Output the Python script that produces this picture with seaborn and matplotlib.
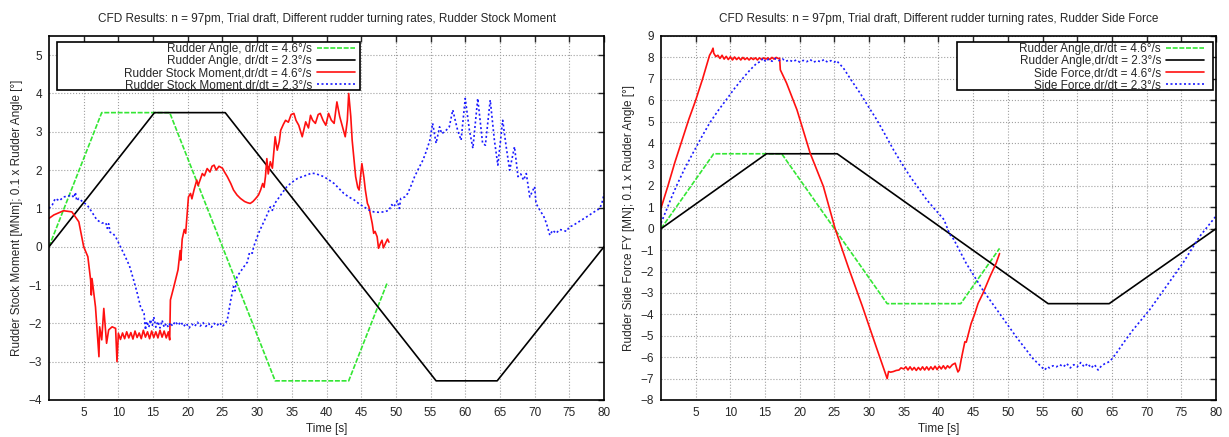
import numpy as np
import pandas as pd
import seaborn as sns
import matplotlib
matplotlib.use("Agg")
import matplotlib.pyplot as plt
from matplotlib.patches import Rectangle

# rudder angle (0.1 x deg)
ang46_t = [0, 7.6, 17.4, 32.6, 43.2, 48.8]
ang46_v = [0, 3.5, 3.5, -3.5, -3.5, -0.92]
ang23_t = [0, 15.2, 25.4, 55.8, 64.6, 80.0]
ang23_v = [0, 3.5, 3.5, -3.5, -3.5, 0.0]

# rudder stock moment, 4.6 deg/s
mom46_t = [0, 0.7, 2.1, 3.3, 4.3, 5.0, 5.6, 6.0, 6.1, 6.2, 6.7, 7.2, 7.3, 7.6, 7.9, 8.3, 8.6, 9.1, 9.6, 9.8, 10.0,
           10.3, 10.6, 10.9, 11.2, 11.5, 11.8, 12.1, 12.4, 12.7, 13.0, 13.3, 13.6, 13.9, 14.2, 14.5, 14.8, 15.1, 15.4,
           15.7, 16.0, 16.3, 16.6, 16.9, 17.2, 17.4, 17.5, 18.0, 18.6, 18.9, 19.0, 19.2, 19.5, 19.7, 20.1, 20.4, 20.6,
           20.9, 21.3, 21.5, 22.1, 22.4, 22.8, 23.2, 23.5, 23.8, 24.1, 24.5, 25.0, 25.3, 25.7, 26.2, 26.6, 27.1, 27.6,
           28.2, 28.6, 29.0, 29.4, 29.8, 30.2, 30.5, 30.8, 31.0, 31.2, 31.4, 31.6, 31.9, 32.2, 32.6, 32.9, 33.2, 33.4,
           33.8, 34.1, 34.5, 34.9, 35.3, 35.6, 36.0, 36.5, 37.0, 37.4, 37.7, 38.0, 38.4, 38.8, 39.1, 39.5, 39.9, 40.3,
           40.7, 41.1, 41.5, 41.9, 42.3, 42.7, 43.0, 43.2, 43.5, 43.7, 44.2, 44.5, 44.7, 45.1, 45.4, 45.6, 45.9, 46.1,
           46.3, 46.6, 46.8, 47.0, 47.3, 47.5, 47.8, 48.0, 48.2, 48.5, 48.8, 49.0]
mom46_v = [0.74, 0.83, 0.94, 0.91, 0.65, 0.0, -0.26, -0.87, -1.26, -0.83, -1.57, -2.87, -2.09, -2.43, -1.61, -2.52,
           -2.17, -2.09, -2.13, -3.0, -2.26,
           -2.42, -2.25, -2.40, -2.22, -2.38, -2.24, -2.41, -2.20, -2.37, -2.25, -2.40, -2.18, -2.36, -2.22, -2.40,
           -2.20, -2.37, -2.22, -2.38, -2.18, -2.36, -2.20, -2.38, -2.22, -2.43, -1.39, -1.04, -0.6, -0.1, -0.35, 0.2,
           0.45, 0.35, 1.3, 1.39, 1.25, 1.48, 1.74, 1.6, 1.91, 1.85, 2.04, 1.95, 2.1, 2.13, 2.0, 2.1, 2.05, 1.95,
           1.83, 1.65, 1.48, 1.35, 1.26, 1.18, 1.15, 1.13, 1.18, 1.26, 1.35, 1.48, 1.65, 1.55, 1.83, 2.3, 1.9, 2.22,
           2.05, 2.87, 2.52, 2.75, 3.04, 3.2, 3.3, 3.25, 3.45, 3.48, 3.3, 3.17, 2.87, 3.26, 3.1, 3.43, 3.3, 3.22,
           3.45, 3.48, 3.3, 3.17, 3.48, 3.3, 3.22, 3.78, 3.4, 3.13, 2.87, 3.3, 4.0, 3.4, 2.78, 1.83, 1.55, 1.48, 2.17,
           1.8, 1.48, 1.13, 1.05, 0.87, 0.6, 0.35, 0.4, 0.26, -0.04, 0.1, 0.17, -0.03, 0.09, 0.2, 0.12]

# rudder stock moment, 2.3 deg/s
mom23_t = [0, 0.5, 0.9, 1.5, 2.1, 2.7, 3.3, 3.6, 3.8, 4.0, 4.3, 5.0, 5.5, 6.2, 6.9, 7.6, 8.2, 8.4, 8.6, 8.8, 9.2, 9.6,
           10.3, 11.0, 11.6, 12.2, 12.7, 13.2, 13.7, 13.9, 14.1, 14.4, 14.6, 14.9, 15.1, 15.4, 15.7, 16.0, 16.3, 16.6,
           16.9, 17.2, 17.5, 17.8, 18.2, 18.6, 19.0, 19.4, 19.8, 20.2, 20.6, 21.0, 21.4, 21.8, 22.2, 22.6, 23.0, 23.4,
           23.8, 24.2, 24.6, 25.0, 25.4, 25.7, 26.2, 26.6, 26.8, 27.1, 27.6, 28.1, 28.6, 28.9, 29.3, 29.5, 29.9, 30.2,
           30.7, 31.2, 31.6, 31.9, 32.2, 32.5, 32.9, 33.6, 34.3, 35.0, 35.8, 36.5, 37.2, 37.8, 38.4, 39.0, 39.6, 40.3,
           41.1, 41.8, 42.5, 43.2, 44.0, 44.7, 45.4, 46.1, 46.8, 47.5, 48.3, 49.0, 49.4, 49.7, 50.2, 50.5, 50.7, 51.3,
           51.7, 52.2, 52.7, 53.3, 53.9, 54.4, 54.9, 55.3, 55.8, 56.3, 56.6, 57.0, 57.3, 57.7, 58.2, 58.9, 59.4, 60.0,
           60.6, 61.1, 61.8, 62.5, 62.9, 63.6, 64.2, 64.7, 65.4, 65.9, 66.4, 67.1, 67.6, 68.0, 68.4, 68.8, 69.3, 70.0,
           70.2, 70.9, 71.3, 71.7, 72.2, 72.6, 73.1, 73.6, 74.1, 74.6, 75.0, 75.5, 76.0, 76.8, 77.5, 78.5, 79.4, 79.8,
           80.0]
mom23_v = [1.0, 1.1, 1.26, 1.2, 1.3, 1.32, 1.35, 1.28, 1.42, 1.2, 1.26, 1.15, 1.09, 0.9, 0.7, 0.62, 0.62, 0.48, 0.6,
           0.38, 0.35, 0.26, 0.0, -0.26, -0.5, -0.87, -1.2, -1.57, -1.74, -2.17, -1.95, -2.1, -1.9, -2.05, -1.83,
           -2.1, -1.95, -2.12, -1.92, -2.1, -2.0, -2.1, -1.98, -2.07, -1.95, -2.05, -1.96, -2.08, -2.0, -2.12, -2.02,
           -2.08, -1.97, -2.07, -1.98, -2.08, -2.0, -2.1, -2.0, -2.06, -1.98, -2.08, -2.0, -1.91, -1.39, -1.04, -1.15,
           -0.78, -0.65, -0.52, -0.4, -0.15, -0.17, 0.0, 0.2, 0.35, 0.55, 0.74, 0.9, 1.04, 0.95, 1.12, 1.22, 1.4, 1.57,
           1.68, 1.78, 1.83, 1.87, 1.92, 1.91, 1.87, 1.83, 1.75, 1.65, 1.52, 1.39, 1.3, 1.22, 1.12, 1.04, 0.96, 0.91,
           0.9, 0.91, 0.95, 1.1, 1.04, 1.2, 1.0, 1.26, 1.3, 1.39, 1.6, 1.83, 2.05, 2.26, 2.5, 2.78, 3.22, 2.7, 3.13,
           2.95, 3.0, 3.05, 3.13, 3.57, 3.04, 2.78, 3.87, 3.04, 2.57, 3.87, 2.7, 2.65, 3.83, 2.78, 2.13, 3.3, 2.61,
           2.0, 2.61, 1.83, 1.9, 1.74, 1.91, 1.3, 1.57, 1.13, 0.91, 0.8, 0.61, 0.3, 0.43, 0.35, 0.45, 0.43, 0.4, 0.52,
           0.55, 0.61, 0.7, 0.78, 0.9, 1.0, 1.2, 1.39]

# rudder side force, 4.6 deg/s
fy46_t = [0, 1, 2, 3, 4, 5, 6, 7.0, 7.3, 7.5, 7.6, 7.9, 8.2, 8.5, 8.8, 9.1, 9.4, 9.7, 10.0, 10.3, 10.6, 10.9, 11.2,
          11.5, 11.8, 12.1, 12.4, 12.7, 13.0, 13.3, 13.6, 13.9, 14.2, 14.5, 14.8, 15.1, 15.4, 15.7, 16.0, 16.3, 16.6,
          16.9, 17.1, 17.2, 18.1, 19.6, 21.5, 23.4, 25.1, 27.0, 29.0, 31.0, 32.6, 32.8, 33.1, 33.5, 33.9, 34.3, 34.6,
          35.0, 35.3, 35.6, 35.9, 36.2, 36.5, 36.8, 37.1, 37.4, 37.7, 38.0, 38.3, 38.6, 38.9, 39.2, 39.5, 39.8, 40.1,
          40.4, 40.7, 41.0, 41.3, 41.6, 42.0, 42.4, 42.6, 42.8, 43.0, 43.3, 43.8, 44.0, 44.2, 44.7, 45.2, 45.7, 46.4,
          47.4, 48.3, 48.8]
fy46_v = [0.96, 2.0, 3.1, 4.1, 5.1, 6.0, 7.0, 8.1, 8.27, 8.43, 8.2, 8.04, 8.1, 7.95, 8.1, 7.92, 8.05, 7.9, 8.03, 7.88,
          8.02, 7.9, 8.0, 7.88, 8.0, 7.9, 7.98, 7.88, 7.98, 7.9, 7.98, 7.88, 7.98, 7.9, 7.98, 7.92, 7.98, 7.9, 8.0,
          7.92, 8.0, 7.95, 7.96, 7.42, 6.8, 5.55, 3.53, 1.98, 0.0, -1.8, -3.6, -5.5, -7.0, -6.67, -6.7, -6.67, -6.62,
          -6.6, -6.5, -6.55, -6.45, -6.6, -6.45, -6.6, -6.48, -6.62, -6.48, -6.6, -6.45, -6.6, -6.45, -6.6, -6.45,
          -6.58, -6.42, -6.58, -6.42, -6.55, -6.4, -6.55, -6.4, -6.5, -6.35, -6.28, -6.5, -6.69, -6.6, -6.06, -5.28,
          -5.3, -5.05, -4.43, -4.0, -3.49, -3.02, -2.25, -1.62, -1.16]

# rudder side force, 2.3 deg/s
fy23_t = [0, 0.8, 1.5, 2.2, 3.4, 4.6, 5.8, 7.0, 8.2, 9.4, 10.6, 11.8, 12.8, 13.8, 14.3, 14.7, 15.1, 15.5, 16.0, 16.5,
          17.0, 17.5, 18.0, 18.5, 19.0, 19.5, 20.0, 20.5, 21.0, 21.5, 22.0, 22.5, 23.0, 23.5, 24.0, 24.5, 25.0, 25.3,
          26.3, 27.5, 28.7, 29.9, 31.1, 32.3, 33.5, 34.7, 35.9, 37.1, 38.3, 39.5, 40.8, 41.6, 42.2, 44.0, 46.4, 48.8,
          51.2, 53.6, 55.3, 55.7, 56.0, 56.5, 57.0, 57.5, 58.0, 58.5, 59.0, 59.5, 60.0, 60.5, 61.0, 61.5, 62.0, 62.5,
          63.0, 63.5, 64.0, 64.7, 65.6, 66.6, 68.0, 70.4, 72.8, 75.2, 77.6, 79.9]
fy23_v = [0.26, 0.89, 1.45, 1.98, 2.8, 3.53, 4.25, 4.93, 5.5, 6.02, 6.55, 7.03, 7.4, 7.73, 7.8, 7.96, 7.8, 7.92, 7.82,
          7.95, 7.85, 7.93, 7.82, 7.88, 7.8, 7.88, 7.78, 7.86, 7.8, 7.9, 7.78, 7.85, 7.8, 7.9, 7.78, 7.85, 7.78, 7.85,
          7.5, 6.9, 6.33, 5.7, 5.09, 4.4, 3.69, 3.05, 2.44, 1.9, 1.35, 0.9, 0.42, -0.25, -0.5, -1.62, -2.87, -3.96,
          -5.05, -6.06, -6.6, -6.45, -6.5, -6.4, -6.45, -6.35, -6.45, -6.3, -6.5, -6.35, -6.45, -6.25, -6.45, -6.3,
          -6.5, -6.35, -6.6, -6.4, -6.3, -6.2, -5.83, -5.36, -4.74, -3.8, -2.71, -1.62, -0.38, 0.55]

deg = "°"
title_base = "CFD Results: n = 97pm, Trial draft, Different rudder turning rates, "

sns.set_style("white")
plt.rcParams["font.family"] = ["Liberation Sans", "DejaVu Sans"]
plt.rcParams["axes.unicode_minus"] = True

GREEN = "#33e633"
RED = "#ff1010"
BLUE = "#1a1aff"
FS = 8.5
W, H = 1229, 437

fig = plt.figure(figsize=(W / 100, H / 100), dpi=100)
ax1 = fig.add_axes([49 / W, 37 / H, 555 / W, 364 / H])
ax2 = fig.add_axes([661 / W, 37 / H, 555 / W, 364 / H])


def draw(ax, series):
    for t, v, color, ls, label in series:
        sns.lineplot(x=t, y=v, ax=ax, color=color, linestyle=ls, linewidth=1.2,
                     estimator=None, sort=False, label=label)


draw(ax1, [
    (ang46_t, ang46_v, GREEN, (0, (3, 1)), "Rudder Angle, dr/dt = 4.6" + deg + "/s"),
    (ang23_t, ang23_v, "black", "-", "Rudder Angle, dr/dt = 2.3" + deg + "/s"),
    (mom46_t, mom46_v, RED, "-", "Rudder Stock Moment,dr/dt = 4.6" + deg + "/s"),
    (mom23_t, mom23_v, BLUE, (0, (1.2, 1.5)), "Rudder Stock Moment,dr/dt = 2.3" + deg + "/s"),
])
draw(ax2, [
    (ang46_t, ang46_v, GREEN, (0, (3, 1)), "Rudder Angle,dr/dt = 4.6" + deg + "/s"),
    (ang23_t, ang23_v, "black", "-", "Rudder Angle,dr/dt = 2.3" + deg + "/s"),
    (fy46_t, fy46_v, RED, "-", "Side Force,dr/dt = 4.6" + deg + "/s"),
    (fy23_t, fy23_v, BLUE, (0, (1.2, 1.5)), "Side Force,dr/dt = 2.3" + deg + "/s"),
])

ax1.set_ylim(-4, 5.5)
ax1.set_yticks(np.arange(-4, 6, 1))
ax2.set_ylim(-8, 9)
ax2.set_yticks(np.arange(-8, 10, 1))
ax1.set_ylabel("Rudder Stock Moment [MNm]; 0.1 x Rudder Angle [" + deg + "]", fontsize=FS, labelpad=4)
ax2.set_ylabel("Rudder Side Force FY [MN]; 0.1 x Rudder Angle [" + deg + "]", fontsize=FS, labelpad=4)
ax1.set_title(title_base + "Rudder Stock Moment", fontsize=FS, pad=10)
ax2.set_title(title_base + "Rudder Side Force", fontsize=FS, pad=10)

for ax in (ax1, ax2):
    ax.set_xlim(0, 80)
    ax.set_xticks(np.arange(5, 85, 5))
    ax.set_xlabel("Time [s]", fontsize=FS, labelpad=3)
    ax.grid(True, color="#a0a0a0", linestyle=":", linewidth=0.8)
    ax.tick_params(direction="in", top=True, right=True, length=4, width=1,
                   labelsize=FS, pad=5)
    for s in ax.spines.values():
        s.set_color("black")
        s.set_linewidth(1.2)

# gnuplot-like key: right-aligned text, sample on the right, wide box
leg_kw = dict(fontsize=FS, markerfirst=False, frameon=False, borderaxespad=0, borderpad=0,
              handlelength=3.2, handletextpad=0.45, labelspacing=0.0)
boxes = [
    (ax1, 49, (57, 360), 355),
    (ax2, 661, (957, 1213), 1204),
]
for ax, x0, (bl, br), hr in boxes:
    frame = Rectangle(((bl - x0) / 555, (400 - 90) / 364), (br - bl) / 555, 48 / 364,
                      transform=ax.transAxes, facecolor="white", edgecolor="black",
                      linewidth=1.2, zorder=4, clip_on=False)
    ax.add_patch(frame)
    leg = ax.legend(loc="upper right", bbox_to_anchor=((hr - x0) / 555, (400 - 43) / 364), **leg_kw)
    leg.set_zorder(5)

fig.savefig("out.png", dpi=100)
